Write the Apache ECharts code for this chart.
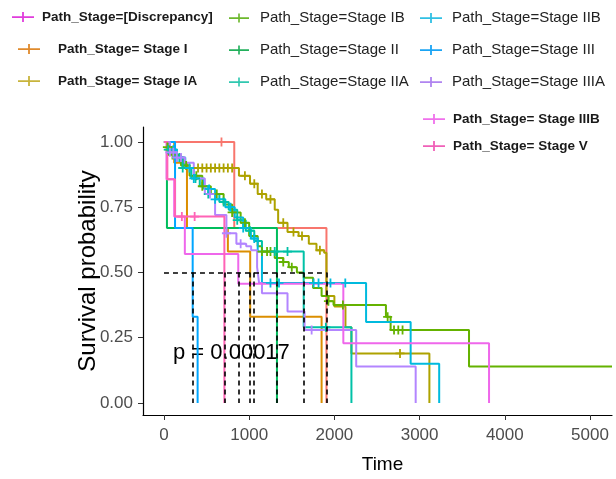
<!DOCTYPE html>
<html>
<head>
<meta charset="utf-8">
<script src="https://cdn.jsdelivr.net/npm/echarts@6/dist/echarts.min.js"></script>
<style>html,body{margin:0;padding:0;background:#fff;}#c{width:616px;height:479px;}</style>
</head>
<body>
<div id="c"></div>
<script>
// Each point: [time, survival, censorMark(1/0)]
const dDisc = [[0,1,0],[675,1,1],[825,0.67,0],[1907,0.67,0],[1907,0,0]];
const dI    = [[0,1,0],[120,0.92,0],[270,0.67,0],[750,0.58,0],[1012,0.33,0],[1850,0,0]];
const dIA   = [[0,1,0],[60,0.97,1],[150,0.94,0],[230,0.9,0],[400,0.9,1],[450,0.9,1],[500,0.9,1],[550,0.9,1],[600,0.9,1],[650,0.9,1],[700,0.9,1],[750,0.9,1],[800,0.9,1],[880,0.87,0],[950,0.87,1],[1010,0.84,0],[1060,0.84,1],[1100,0.8,0],[1150,0.8,1],[1200,0.78,0],[1250,0.78,1],[1300,0.74,0],[1340,0.69,0],[1400,0.69,1],[1450,0.655,0],[1520,0.655,1],[1580,0.64,0],[1620,0.64,1],[1700,0.61,0],[1790,0.585,0],[1830,0.585,1],[1880,0.575,0],[1907,0.41,0],[2000,0.37,0],[2130,0.29,0],[2200,0.19,0],[2770,0.19,1],[3115,0.19,0],[3115,0,0]];
const dIB   = [[0,1,0],[40,0.98,1],[100,0.95,1],[200,0.91,0],[260,0.91,1],[300,0.87,0],[380,0.87,1],[450,0.83,1],[550,0.8,0],[620,0.8,1],[700,0.76,0],[800,0.73,1],[900,0.69,0],[950,0.69,1],[1000,0.64,0],[1100,0.6,0],[1150,0.58,1],[1210,0.58,1],[1250,0.58,1],[1300,0.555,0],[1400,0.54,1],[1465,0.52,0],[1500,0.52,1],[1560,0.5,0],[1640,0.48,0],[1750,0.44,0],[1850,0.41,0],[1930,0.39,1],[1990,0.375,0],[2100,0.375,1],[2605,0.33,0],[2625,0.33,1],[2660,0.28,0],[2700,0.28,1],[2750,0.28,1],[2800,0.28,1],[3580,0.14,0],[5258,0.14,0]];
const dII   = [[0,1,0],[35,0.67,0],[1326,0.67,0],[1326,0,0]];
const dIIA  = [[0,1,0],[50,0.97,1],[120,0.94,0],[180,0.94,1],[220,0.9,1],[320,0.86,0],[370,0.86,1],[420,0.83,0],[520,0.8,1],[650,0.77,0],[700,0.77,1],[760,0.74,0],[860,0.7,1],[960,0.66,0],[1010,0.66,1],[1060,0.62,0],[1150,0.58,0],[1300,0.58,1],[1450,0.58,1],[1640,0.29,0],[1900,0.29,1],[2200,0.29,0],[2200,0,0]];
const dIIB  = [[0,1,0],[70,0.97,0],[110,0.97,1],[150,0.94,1],[250,0.9,0],[300,0.9,1],[350,0.86,1],[470,0.82,0],[530,0.82,1],[600,0.78,1],[720,0.75,0],[780,0.75,1],[830,0.71,0],[930,0.67,1],[1020,0.63,0],[1060,0.63,1],[1100,0.58,0],[1150,0.46,0],[1250,0.46,1],[1350,0.46,1],[1756,0.46,1],[1814,0.46,1],[1954,0.46,1],[2128,0.46,1],[2372,0.31,0],[2895,0.15,0],[3230,0.15,0],[3230,0,0]];
const dIII  = [[0,1,0],[130,0.67,0],[337,0.33,0],[395,0.33,0],[395,0,0]];
const dIIIA = [[0,1,0],[70,0.96,1],[110,0.96,1],[150,0.94,1],[200,0.94,1],[245,0.92,0],[350,0.86,0],[480,0.8,0],[540,0.8,1],[600,0.72,0],[733,0.65,1],[850,0.61,0],[900,0.61,1],[965,0.6,0],[1023,0.585,0],[1093,0.52,0],[1116,0.46,0],[1150,0.42,0],[1450,0.35,0],[1650,0.28,0],[1733,0.28,1],[2256,0.14,0],[2954,0.14,0],[2954,0,0]];
const dIIIB = [[0,1,0],[30,0.857,0],[120,0.714,0],[245,0.571,0],[872,0.457,0],[2105,0.229,0],[3815,0.229,0],[3815,0,0]];
const dV    = [[0,1,0],[40,0.857,0],[130,0.714,0],[210,0.714,1],[360,0.714,1],[709,0.714,0],[709,0,0]];

const medians = [337, 709, 872, 1012, 1058, 1326, 1640, 1907];
const xTicks = [0, 1000, 2000, 3000, 4000, 5000];
const yTicks = [0, 0.25, 0.5, 0.75, 1];
const pText = 'p = 0.00017';

const groups = [
  {name: 'Path_Stage=[Discrepancy]', data: dDisc, color: '#F8766D', key: '#E03CDC'},
  {name: 'Path_Stage= Stage I', data: dI, color: '#DB8E00', key: '#E08A2C'},
  {name: 'Path_Stage= Stage IA', data: dIA, color: '#AEA200', key: '#C8B43C'},
  {name: 'Path_Stage=Stage IB', data: dIB, color: '#64B200', key: '#6CB82C'},
  {name: 'Path_Stage=Stage II', data: dII, color: '#00BD5C', key: '#22B05C'},
  {name: 'Path_Stage=Stage IIA', data: dIIA, color: '#00C1A7', key: '#30C8B0'},
  {name: 'Path_Stage=Stage IIB', data: dIIB, color: '#00BADE', key: '#30C0E4'},
  {name: 'Path_Stage=Stage III', data: dIII, color: '#00A6FF', key: '#1AA4F4'},
  {name: 'Path_Stage=Stage IIIA', data: dIIIA, color: '#B385FF', key: '#B084F0'},
  {name: 'Path_Stage= Stage IIIB', data: dIIIB, color: '#EF67EB', key: '#F070EC'},
  {name: 'Path_Stage= Stage V', data: dV, color: '#FF63B6', key: '#F060B8'}
];

const plus = 'path://M0,4h10v2h-10z M4,0h2v10h-2z';
const keyIcon = 'path://M0,4.2h22v1.8h-22z M10.1,0h1.8v10h-1.8z';

const series = groups.map(g => ({
  name: g.name,
  type: 'line',
  step: 'end',
  data: g.data,
  color: g.color,
  lineStyle: {width: 2, color: g.color},
  itemStyle: {color: g.color},
  symbol: function (v) { return v[2] ? plus : 'none'; },
  symbolSize: 9,
  showSymbol: true,
  showAllSymbol: true,
  silent: true,
  z: 2
}));

const maxMed = Math.max.apply(null, medians);
series.push({
  name: 'median',
  type: 'line',
  data: [[0, 0.5]],
  showSymbol: false,
  silent: true,
  lineStyle: {opacity: 0},
  z: 5,
  markLine: {
    silent: true,
    symbol: ['none', 'none'],
    animation: false,
    label: {show: false},
    lineStyle: {color: '#000', type: [5, 4], width: 1.6},
    emphasis: {disabled: true},
    data: [[{coord: [0, 0.5]}, {coord: [maxMed, 0.5]}]].concat(
      medians.map(m => [{coord: [m, 0.5]}, {coord: [m, 0]}]))
  }
});

function keyItems(names) {
  return names.map(n => {
    const g = groups.find(x => x.name === n);
    return {name: n, itemStyle: {color: g.key}};
  });
}
const boldFont = {fontFamily: "'Liberation Sans',Arial,sans-serif", fontWeight: 'bold', fontSize: 13.5, color: '#1a1a1a', lineHeight: 16};
const regFont = {fontFamily: "'Liberation Sans',Arial,sans-serif", fontSize: 15, color: '#222', lineHeight: 16};

function mkLegend(names, left, top, gap, font, pad, w) {
  return {
    orient: 'vertical', left: left, top: top, itemGap: gap,
    itemWidth: w, itemHeight: 11, icon: keyIcon, selectedMode: false,
    padding: 0,
    data: keyItems(names),
    textStyle: Object.assign({}, font, {padding: [0, 0, 0, pad]})
  };
}

const axisFont = "'Liberation Sans',Arial,sans-serif";
const option = {
  animation: false,
  backgroundColor: '#ffffff',
  grid: {left: 143, right: 4, top: 127, bottom: 64, containLabel: false},
  legend: [
    mkLegend(['Path_Stage=[Discrepancy]'], 12, 9, 16, boldFont, 3, 22),
    mkLegend(['Path_Stage= Stage I', 'Path_Stage= Stage IA'], 18, 41, 16, boldFont, 13, 22),
    mkLegend(['Path_Stage=Stage IB', 'Path_Stage=Stage II', 'Path_Stage=Stage IIA'], 229, 10, 16, regFont, 6, 20),
    mkLegend(['Path_Stage=Stage IIB', 'Path_Stage=Stage III', 'Path_Stage=Stage IIIA'], 420, 10, 16, regFont, 5, 22),
    mkLegend(['Path_Stage= Stage IIIB', 'Path_Stage= Stage V'], 423, 111, 11, boldFont, 3, 22)
  ],
  xAxis: {
    type: 'value', min: -246, max: 5258,
    name: 'Time', nameLocation: 'middle', nameGap: 40, nameMoveOverlap: false,
    nameTextStyle: {fontFamily: axisFont, fontSize: 19, color: '#000', padding: [0, 0, 0, 10]},
    axisLine: {show: true, onZero: false, lineStyle: {color: '#000', width: 1.2}},
    axisTick: {show: true, length: 5, lineStyle: {color: '#333'}, customValues: xTicks},
    axisLabel: {color: '#4d4d4d', fontSize: 17, margin: 12, fontFamily: axisFont, customValues: xTicks, formatter: v => String(v)},
    splitLine: {show: false}
  },
  yAxis: {
    type: 'value', min: -0.046, max: 1.057,
    name: 'Survival probability', nameLocation: 'middle', nameGap: 43, nameRotate: 90, nameMoveOverlap: false,
    nameTextStyle: {fontFamily: axisFont, fontSize: 24, color: '#000'},
    axisLine: {show: true, onZero: false, lineStyle: {color: '#000', width: 1.2}},
    axisTick: {show: true, length: 5, lineStyle: {color: '#333'}, customValues: yTicks},
    axisLabel: {color: '#4d4d4d', fontSize: 17, margin: 10, fontFamily: axisFont, customValues: yTicks, formatter: v => v.toFixed(2)},
    splitLine: {show: false}
  },
  graphic: [{
    type: 'text', left: 173, top: 342, silent: true,
    style: {text: pText, font: "22px 'Liberation Sans', Arial, sans-serif", fill: '#000'}
  }],
  series: series
};

const chart = echarts.init(document.getElementById('c'), null, {renderer: 'canvas'});
chart.setOption(option);
</script>
</body>
</html>
